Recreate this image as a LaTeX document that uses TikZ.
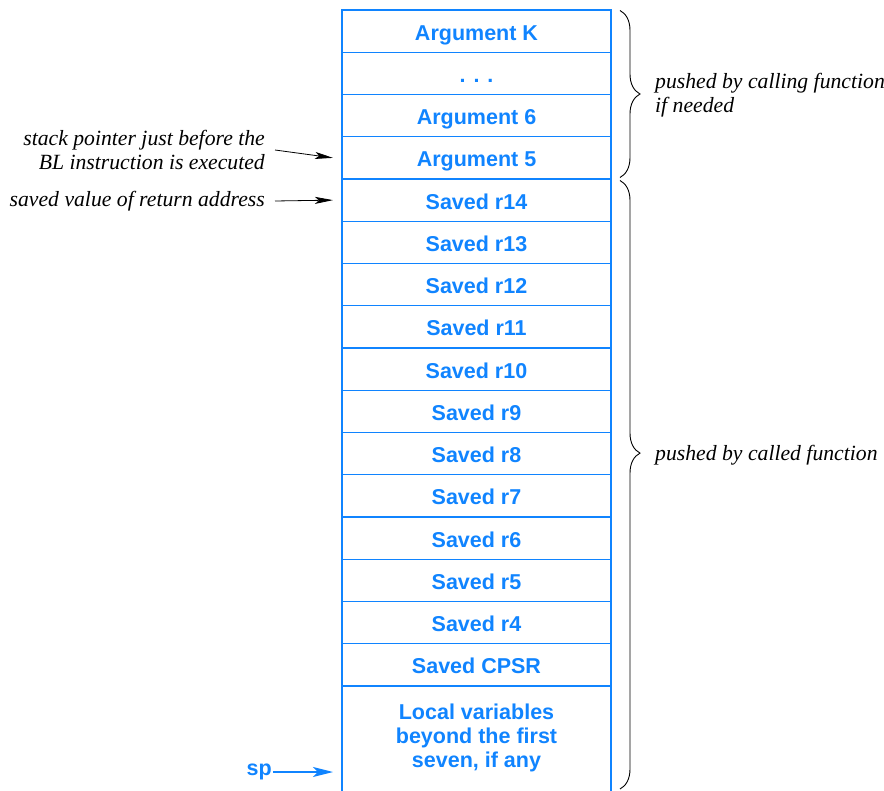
\documentclass[tikz,border=0pt]{standalone}
\usepackage{fontspec}
\setmainfont{Liberation Serif}
\setsansfont{Liberation Sans}
\usepackage{tikz}
\usetikzlibrary{positioning}
\usetikzlibrary{arrows.meta}
\usetikzlibrary{decorations.pathreplacing}
\definecolor{stackblue}{RGB}{16,132,255}
\newcommand{\widthslot}{269pt}
\newcommand{\heightslot}{42.25pt}
\newcommand{\gapnote}{9pt}
\tikzset{
    frame/.style={draw=stackblue, line width=1.4pt, rectangle, outer sep=0pt, inner sep=0pt,
        minimum width=\widthslot, minimum height=\heightslot, text=stackblue,
        font=\fontsize{21.5}{24}\selectfont\sffamily\bfseries},
    slot/.style={frame, text height=18pt, text depth=0pt},
    note/.style={inner sep=0pt, font=\fontsize{21.7}{24}\selectfont\itshape},
    pointer/.style={-{Stealth[length=18pt, width=7pt, inset=4pt]}, line width=0.8pt},
    sppointer/.style={-{Stealth[length=20pt, width=10pt, inset=5pt]}, line width=1.4pt, stackblue},
    stackbrace/.style={decorate, decoration={brace, amplitude=20pt}, line width=0.9pt}
}
\begin{document}
\begin{tikzpicture}[x=1pt, y=-1pt]
      \useasboundingbox (0,0) rectangle (884,791);

      % pushed by the caller
      \node[slot, anchor=north] (argK) at (476.5,10) {Argument K};
      \node[slot, below=0pt of argK] (dots) {. . .};
      \node[slot, below=0pt of dots] (arg6) {Argument 6};
      \node[slot, below=0pt of arg6] (arg5) {Argument 5};

      % pushed by the callee
      \node[slot, below=0pt of arg5] (r14) {Saved r14};
      \node[slot, below=0pt of r14] (r13) {Saved r13};
      \node[slot, below=0pt of r13] (r12) {Saved r12};
      \node[slot, below=0pt of r12] (r11) {Saved r11};
      \node[slot, below=0pt of r11] (r10) {Saved r10};
      \node[slot, below=0pt of r10] (r9) {Saved r9};
      \node[slot, below=0pt of r9] (r8) {Saved r8};
      \node[slot, below=0pt of r8] (r7) {Saved r7};
      \node[slot, below=0pt of r7] (r6) {Saved r6};
      \node[slot, below=0pt of r6] (r5) {Saved r5};
      \node[slot, below=0pt of r5] (r4) {Saved r4};
      \node[slot, below=0pt of r4] (cpsr) {Saved CPSR};
      \node[frame, draw=none, align=center, minimum height=104pt, below=0pt of cpsr] (locals)
          {Local variables\\beyond the first\\seven, if any};
      \draw[stackblue, line width=1.4pt]
          (locals.north west) -- ([yshift=-4pt]locals.south west)
          (locals.north east) -- ([yshift=-4pt]locals.south east);

      % notes on the left
      \node[note, align=right, anchor=east] (bl-note) at (265,150)
          {stack pointer just before the\\BL instruction is executed};
      \node[note, anchor=east] (ret-note) at (265,201) {saved value of return address};
      \node[inner sep=0pt, anchor=east, text=stackblue, font=\fontsize{21.5}{24}\selectfont\sffamily\bfseries]
          (sp) at (272,772) {sp};
      \coordinate (sp-target) at ([xshift=-\gapnote]locals.west |- sp.east);

      \draw[pointer] ([xshift=10pt]bl-note.east) -- ([xshift=-\gapnote]arg5.west);
      \draw[pointer] ([xshift=10pt]ret-note.east) -- ([xshift=-\gapnote]r14.west);
      \draw[sppointer] ([xshift=1pt]sp.east) -- (sp-target);

      % braces on the right
      \draw[stackbrace] ([xshift=\gapnote, yshift=-0.5pt]argK.north east) -- ([xshift=\gapnote, yshift=1.5pt]arg5.south east);
      \draw[stackbrace, decoration={aspect=0.448}] ([xshift=\gapnote, yshift=-1.5pt]r14.north east) -- ([xshift=\gapnote, yshift=1pt]locals.south east);
      \node[note, align=left, anchor=west] (calling-note) at ([xshift=44pt, yshift=-1pt]arg6.north east)
          {pushed by calling function\\if needed};
      \node[note, anchor=west] (called-note) at ([xshift=44pt, yshift=-2pt]r8.east) {pushed by called function};
  \end{tikzpicture}
\end{document}
